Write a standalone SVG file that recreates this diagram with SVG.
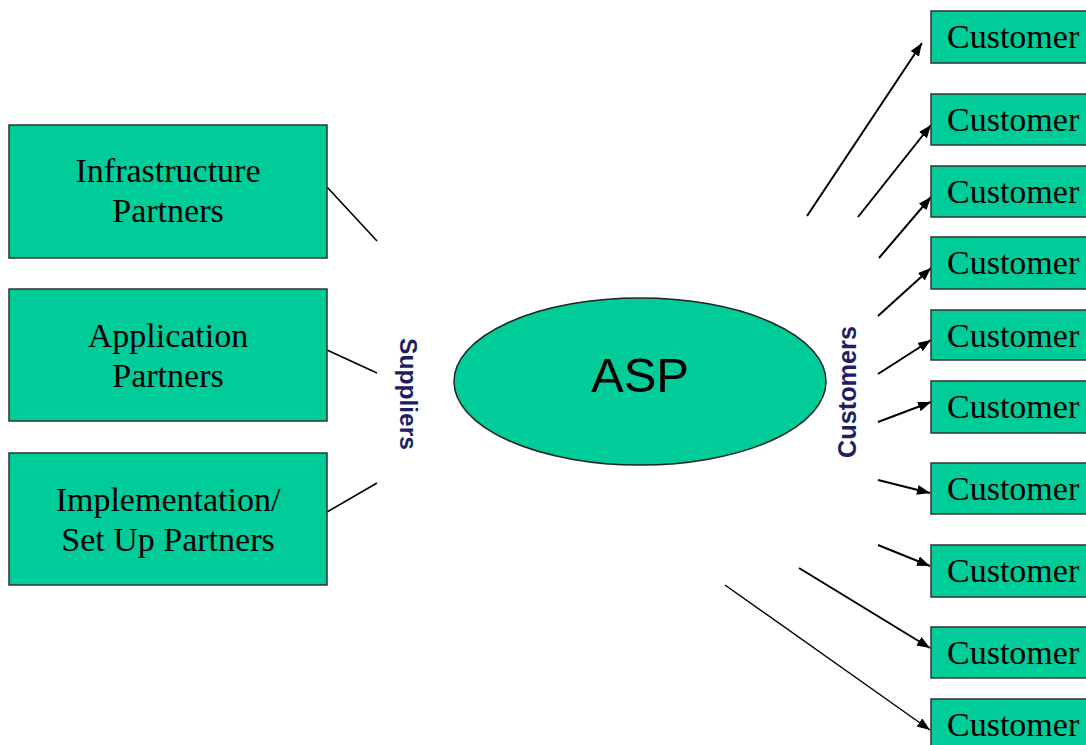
<svg xmlns="http://www.w3.org/2000/svg" width="1086" height="745" viewBox="0 0 1086 745">
<style>
.box{fill:#00CC99;stroke:#333;stroke-width:1.5}
.t{font-family:"Liberation Serif","Times New Roman",serif;font-size:34px;fill:#000;text-anchor:middle}
.c{font-family:"Liberation Serif","Times New Roman",serif;font-size:34px;fill:#000}
.lab{font-family:"Liberation Sans",Arial,sans-serif;font-weight:bold;fill:#1e1e64}
.ln{stroke:#000;stroke-width:1.6;fill:none}
.ar{stroke:#000;stroke-width:2;fill:none;marker-end:url(#ah)}
</style>
<defs>
<marker id="ah" markerUnits="userSpaceOnUse" markerWidth="14" markerHeight="12" refX="13" refY="5" orient="auto">
<path d="M0,0 L13,5 L0,10 Z" fill="#000"/>
</marker>
</defs>
<rect width="1086" height="745" fill="#fff"/>
<g id="connectors">
<line class="ln" x1="327" y1="187" x2="377" y2="241"/>
<line class="ln" x1="327" y1="350" x2="377" y2="373"/>
<line class="ln" x1="327" y1="512" x2="377" y2="483"/>
<line class="ar" x1="807" y1="216" x2="922" y2="43"/>
<line class="ar" x1="858" y1="217" x2="931" y2="125"/>
<line class="ar" x1="879" y1="258" x2="931" y2="197"/>
<line class="ar" x1="878" y1="316" x2="931" y2="268"/>
<line class="ar" x1="878" y1="374" x2="931" y2="340"/>
<line class="ar" x1="878" y1="422" x2="931" y2="402"/>
<line class="ar" x1="878" y1="480" x2="930" y2="493"/>
<line class="ar" x1="878" y1="545" x2="930" y2="566"/>
<line class="ar" x1="799" y1="568" x2="930" y2="648"/>
<line class="ar" x1="725" y1="585" x2="930" y2="730" style="stroke-width:1.4"/>
</g>
<g id="infrastructure">
<rect class="box" x="9" y="125" width="318" height="133"/>
<text class="t" x="168" y="182">Infrastructure</text>
<text class="t" x="168" y="222">Partners</text>
</g>
<g id="application">
<rect class="box" x="9" y="289" width="318" height="132"/>
<text class="t" x="168" y="347">Application</text>
<text class="t" x="168" y="387">Partners</text>
</g>
<g id="implementation">
<rect class="box" x="9" y="453" width="318" height="132"/>
<text class="t" x="168" y="511">Implementation/</text>
<text class="t" x="168" y="551">Set Up Partners</text>
</g>
<g id="suppliers-label">
<text class="lab" font-size="24" transform="translate(400,338) rotate(90)" textLength="112" lengthAdjust="spacingAndGlyphs">Suppliers</text>
</g>
<g id="asp">
<ellipse cx="640" cy="381.5" rx="186" ry="83.5" fill="#00CC99" stroke="#222" stroke-width="1.5"/>
<text x="640" y="392" font-family="'Liberation Sans',Arial,sans-serif" font-size="49" text-anchor="middle" fill="#000">ASP</text>
</g>
<g id="customers-label">
<text class="lab" font-size="26" transform="translate(856,458) rotate(-90)" textLength="132" lengthAdjust="spacingAndGlyphs">Customers</text>
</g>
<g id="customer1"><rect class="box" x="931" y="11" width="170" height="52"/><text class="c" x="947" y="48">Customer</text></g>
<g id="customer2"><rect class="box" x="931" y="94" width="170" height="51"/><text class="c" x="947" y="131">Customer</text></g>
<g id="customer3"><rect class="box" x="931" y="166" width="170" height="51"/><text class="c" x="947" y="203">Customer</text></g>
<g id="customer4"><rect class="box" x="931" y="237" width="170" height="52"/><text class="c" x="947" y="274">Customer</text></g>
<g id="customer5"><rect class="box" x="931" y="310" width="170" height="50"/><text class="c" x="947" y="347">Customer</text></g>
<g id="customer6"><rect class="box" x="931" y="381" width="170" height="52"/><text class="c" x="947" y="418">Customer</text></g>
<g id="customer7"><rect class="box" x="931" y="463" width="170" height="51"/><text class="c" x="947" y="500">Customer</text></g>
<g id="customer8"><rect class="box" x="931" y="545" width="170" height="52"/><text class="c" x="947" y="582">Customer</text></g>
<g id="customer9"><rect class="box" x="931" y="627" width="170" height="51"/><text class="c" x="947" y="664">Customer</text></g>
<g id="customer10"><rect class="box" x="931" y="699" width="170" height="52"/><text class="c" x="947" y="736">Customer</text></g>
</svg>
